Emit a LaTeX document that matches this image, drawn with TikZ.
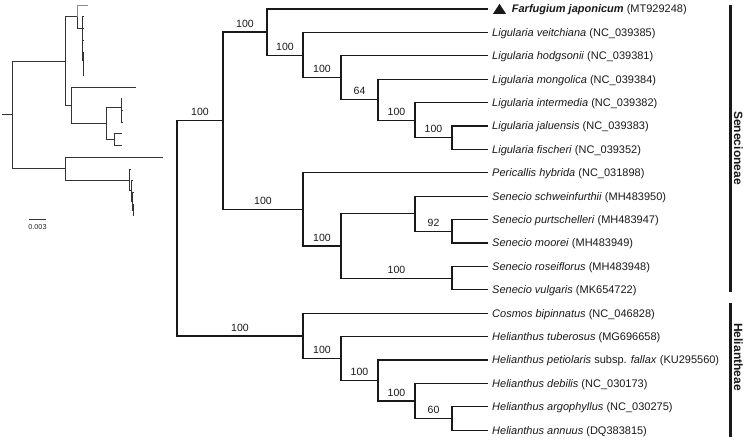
\documentclass[tikz,border=0pt]{standalone}
\usepackage{fontspec}
\setmainfont{Liberation Sans}
\begin{document}
\begin{tikzpicture}[x=1pt,y=-1pt,
  br/.style={line width=1.2pt, draw=black!90},
  sbr/.style={line width=0.6pt, draw=black!80},
  hbr/.style={line width=0.6pt, draw=black!45},
  tip/.style={anchor=base west, inner sep=0pt, xshift=4pt, yshift=-3.8pt, font=\fontsize{11}{13}\selectfont, text=black!90},
  bs/.style={pos=0.75, above=4.2pt, inner sep=0pt, font=\fontsize{10.5}{12}\selectfont, text=black!90},
  grp/.style={line width=3pt, draw=black!90},
  grplab/.style={rotate=-90, inner sep=0pt, font=\fontsize{12}{14}\selectfont\bfseries, text=black!90}
]
\useasboundingbox (0,0) rectangle (745,440);

% ---------------- main tree: tips ----------------
\coordinate (t0) at (488,9.0);
\coordinate (t1) at (488,32.4);
\coordinate (t2) at (488,55.8);
\coordinate (t3) at (488,79.2);
\coordinate (t4) at (488,102.6);
\coordinate (t5) at (488,126.0);
\coordinate (t6) at (488,149.4);
\coordinate (t7) at (488,172.8);
\coordinate (t8) at (488,196.2);
\coordinate (t9) at (488,219.6);
\coordinate (t10) at (488,243.0);
\coordinate (t11) at (488,266.4);
\coordinate (t12) at (488,289.8);
\coordinate (t13) at (488,313.2);
\coordinate (t14) at (488,336.6);
\coordinate (t15) at (488,360.0);
\coordinate (t16) at (488,383.4);
\coordinate (t17) at (488,406.8);
\coordinate (t18) at (488,430.2);
% internal nodes
\coordinate (lig5) at (452,137.7);
\coordinate (lig4) at (415,120.15);
\coordinate (lig3) at (378,99.7);
\coordinate (lig2) at (341,77.75);
\coordinate (lig1) at (303,55.1);
\coordinate (farlig) at (267,32.05);
\coordinate (senD) at (452,231.3);
\coordinate (senB) at (415,213.75);
\coordinate (senC) at (452,278.1);
\coordinate (senA) at (341,245.9);
\coordinate (persen) at (303,209.35);
\coordinate (sen) at (223,120.7);
\coordinate (hel5) at (452,418.5);
\coordinate (hel4) at (415,400.95);
\coordinate (hel3) at (378,380.5);
\coordinate (hel2) at (341,358.55);
\coordinate (hel) at (303,335.9);
\coordinate (root) at (177,228.3);

% branches
\draw[br] (root) |- (sen) node[bs]{100};
\draw[br] (root) |- (hel) node[bs]{100};
\draw[br] (sen) |- (farlig) node[bs]{100};
\draw[br] (sen) |- (persen) node[bs]{100};
\draw[br] (farlig) |- (t0);
\draw[br] (farlig) |- (lig1) node[bs]{100};
\draw[br] (lig1) |- (t1);
\draw[br] (lig1) |- (lig2) node[bs]{100};
\draw[br] (lig2) |- (t2);
\draw[br] (lig2) |- (lig3) node[bs]{64};
\draw[br] (lig3) |- (t3);
\draw[br] (lig3) |- (lig4) node[bs]{100};
\draw[br] (lig4) |- (t4);
\draw[br] (lig4) |- (lig5) node[bs]{100};
\draw[br] (lig5) |- (t5);
\draw[br] (lig5) |- (t6);
\draw[br] (persen) |- (t7);
\draw[br] (persen) |- (senA) node[bs]{100};
\draw[br] (senA) |- (senB);
\draw[br] (senA) |- (senC) node[bs]{100};
\draw[br] (senB) |- (t8);
\draw[br] (senB) |- (senD) node[bs]{92};
\draw[br] (senD) |- (t9);
\draw[br] (senD) |- (t10);
\draw[br] (senC) |- (t11);
\draw[br] (senC) |- (t12);
\draw[br] (hel) |- (t13);
\draw[br] (hel) |- (hel2) node[bs]{100};
\draw[br] (hel2) |- (t14);
\draw[br] (hel2) |- (hel3) node[bs]{100};
\draw[br] (hel3) |- (t15);
\draw[br] (hel3) |- (hel4) node[bs]{100};
\draw[br] (hel4) |- (t16);
\draw[br] (hel4) |- (hel5) node[bs]{60};
\draw[br] (hel5) |- (t17);
\draw[br] (hel5) |- (t18);

% tip labels
\fill[black!90] (493,13.8) -- (506,13.8) -- (499.5,3.8) -- cycle;
\node[tip, xshift=19.7pt] (l0) at (t0) {\textbf{\textit{Farfugium japonicum}} (MT929248)};
\node[tip] (l1) at (t1) {\textit{Ligularia veitchiana} (NC\_039385)};
\node[tip] (l2) at (t2) {\textit{Ligularia hodgsonii} (NC\_039381)};
\node[tip] (l3) at (t3) {\textit{Ligularia mongolica} (NC\_039384)};
\node[tip] (l4) at (t4) {\textit{Ligularia intermedia} (NC\_039382)};
\node[tip] (l5) at (t5) {\textit{Ligularia jaluensis} (NC\_039383)};
\node[tip] (l6) at (t6) {\textit{Ligularia fischeri} (NC\_039352)};
\node[tip] (l7) at (t7) {\textit{Pericallis hybrida} (NC\_031898)};
\node[tip] (l8) at (t8) {\textit{Senecio schweinfurthii} (MH483950)};
\node[tip] (l9) at (t9) {\textit{Senecio purtschelleri} (MH483947)};
\node[tip] (l10) at (t10) {\textit{Senecio moorei} (MH483949)};
\node[tip] (l11) at (t11) {\textit{Senecio roseiflorus} (MH483948)};
\node[tip] (l12) at (t12) {\textit{Senecio vulgaris} (MK654722)};
\node[tip] (l13) at (t13) {\textit{Cosmos bipinnatus} (NC\_046828)};
\node[tip] (l14) at (t14) {\textit{Helianthus tuberosus} (MG696658)};
\node[tip] (l15) at (t15) {\textit{Helianthus petiolaris} subsp. \textit{fallax} (KU295560)};
\node[tip] (l16) at (t16) {\textit{Helianthus debilis} (NC\_030173)};
\node[tip] (l17) at (t17) {\textit{Helianthus argophyllus} (NC\_030275)};
\node[tip] (l18) at (t18) {\textit{Helianthus annuus} (DQ383815)};

% group bars
\coordinate (g1a) at (730,5);
\coordinate (g1b) at (730,292);
\coordinate (g2a) at (730,303);
\coordinate (g2b) at (730,437);
\draw[grp] (g1a) -- (g1b);
\draw[grp] (g2a) -- (g2b);
\node[grplab] (gl1) at (738.5,148) {Senecioneae};
\node[grplab] (gl2) at (738.5,357) {Heliantheae};

% ---------------- small phylogram ----------------
\coordinate (s0) at (88,5.0);
\coordinate (s1) at (83.5,16.7);
\coordinate (s2) at (83.5,28.4);
\coordinate (s3) at (83.6,40.1);
\coordinate (s4) at (83.6,51.8);
\coordinate (s5) at (83.8,63.5);
\coordinate (s6) at (83.8,75.2);
\coordinate (s7) at (136,86.9);
\coordinate (s8) at (122,98.6);
\coordinate (s9) at (122.5,110.3);
\coordinate (s10) at (122.5,122.0);
\coordinate (s11) at (122,133.7);
\coordinate (s12) at (122,145.4);
\coordinate (s13) at (163,157.1);
\coordinate (s14) at (131,168.8);
\coordinate (s15) at (133,180.5);
\coordinate (s16) at (134,192.2);
\coordinate (s17) at (134,203.9);
\coordinate (s18) at (134,215.6);
\coordinate (sLig5) at (83,69.35);
\coordinate (sLig4) at (82.8,60.6);
\coordinate (sLig3) at (82.6,50.3);
\coordinate (sLig2) at (82.4,39.4);
\coordinate (sLig1) at (82,28.0);
\coordinate (sFarLig) at (77.3,16.5);
\coordinate (sSen) at (65.5,60.8);
\coordinate (sSenD) at (121.5,116.2);
\coordinate (sSenB) at (121,107.4);
\coordinate (sSenC) at (114,139.6);
\coordinate (sSenA) at (106.5,123.5);
\coordinate (sPerSen) at (71.7,105.2);
\coordinate (sHel5) at (133,209.8);
\coordinate (sHel4) at (132,201);
\coordinate (sHel3) at (131,190.7);
\coordinate (sHel2) at (129,179.8);
\coordinate (sHel) at (65.5,168.4);
\coordinate (sRoot) at (12,114.6);
\coordinate (sStem) at (2,114.6);

\draw[sbr] (sStem) -- (sRoot);
\draw[sbr] (sRoot) |- (sSen);
\draw[sbr] (sRoot) |- (sHel);
\draw[sbr] (sSen) |- (sFarLig);
\draw[sbr] (sSen) |- (sPerSen);
\draw[hbr] (sFarLig) |- (s0);
\draw[sbr] (sFarLig) |- (sLig1);
\draw[sbr] (sLig1) |- (s1);
\draw[sbr] (sLig1) |- (sLig2);
\draw[sbr] (sLig2) |- (s2);
\draw[sbr] (sLig2) |- (sLig3);
\draw[sbr] (sLig3) |- (s3);
\draw[sbr] (sLig3) |- (sLig4);
\draw[sbr] (sLig4) |- (s4);
\draw[sbr] (sLig4) |- (sLig5);
\draw[sbr] (sLig5) |- (s5);
\draw[sbr] (sLig5) |- (s6);
\draw[sbr] (sPerSen) |- (s7);
\draw[sbr] (sPerSen) |- (sSenA);
\draw[sbr] (sSenA) |- (sSenB);
\draw[sbr] (sSenA) |- (sSenC);
\draw[sbr] (sSenB) |- (s8);
\draw[sbr] (sSenB) |- (sSenD);
\draw[sbr] (sSenD) |- (s9);
\draw[sbr] (sSenD) |- (s10);
\draw[sbr] (sSenC) |- (s11);
\draw[sbr] (sSenC) |- (s12);
\draw[sbr] (sHel) |- (s13);
\draw[sbr] (sHel) |- (sHel2);
\draw[sbr] (sHel2) |- (s14);
\draw[sbr] (sHel2) |- (sHel3);
\draw[sbr] (sHel3) |- (s15);
\draw[sbr] (sHel3) |- (sHel4);
\draw[sbr] (sHel4) |- (s16);
\draw[sbr] (sHel4) |- (sHel5);
\draw[sbr] (sHel5) |- (s17);
\draw[sbr] (sHel5) |- (s18);

% scale bar
\coordinate (sb1) at (29,219.3);
\coordinate (sb2) at (46,219.3);
\draw[sbr] (sb1) -- (sb2);
\node[anchor=base, inner sep=0pt, font=\fontsize{7.2}{8}\selectfont, text=black!85] (sbl) at (37.5,229) {0.003};
\end{tikzpicture}
\end{document}
